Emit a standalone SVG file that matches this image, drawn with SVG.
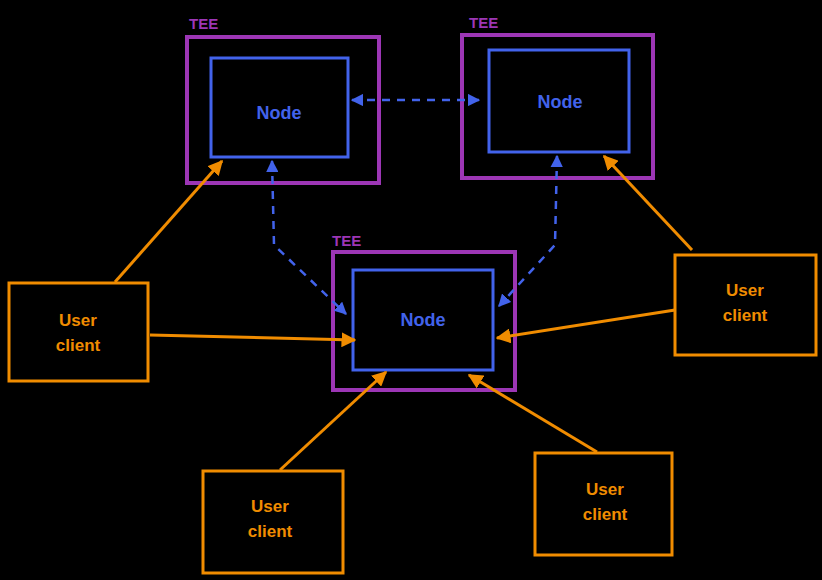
<svg xmlns="http://www.w3.org/2000/svg" width="822" height="580" viewBox="0 0 822 580">
<defs>
<style>
.tee{fill:none;stroke:#9c36b5;stroke-width:4}
.teel{fill:#9c36b5;font-family:"Liberation Sans",Arial,sans-serif;font-size:15px;font-weight:bold}
.node{fill:#000;stroke:#4263eb;stroke-width:3}
.nodel{fill:#4263eb;font-family:"Liberation Sans",Arial,sans-serif;font-size:18px;font-weight:bold;text-anchor:middle}
.uc{fill:#000;stroke:#f08c00;stroke-width:3}
.ucl{fill:#f08c00;font-family:"Liberation Sans",Arial,sans-serif;font-size:17px;font-weight:bold;text-anchor:middle}
.dash{fill:none;stroke:#4263eb;stroke-width:2.5;stroke-dasharray:8 7}
.oa{fill:none;stroke:#f08c00;stroke-width:3}
</style>
<marker id="ab" viewBox="0 0 10 10" refX="9" refY="5" markerWidth="5" markerHeight="5" orient="auto-start-reverse" markerUnits="strokeWidth"><path d="M0,0 L10,5 L0,10 z" fill="#4263eb"/></marker>
<marker id="ao" viewBox="0 0 10 10" refX="9" refY="5" markerWidth="5" markerHeight="5" orient="auto" markerUnits="strokeWidth"><path d="M0,0 L10,5 L0,10 z" fill="#f08c00"/></marker>
</defs>
<rect width="822" height="580" fill="#000"/>
<g id="tee1"><rect class="tee" x="187" y="37" width="192" height="146"/><text class="teel" x="189" y="29">TEE</text></g>
<g id="tee2"><rect class="tee" x="462" y="35" width="191" height="143"/><text class="teel" x="469" y="28">TEE</text></g>
<g id="tee3"><rect class="tee" x="333" y="252" width="182" height="138"/><text class="teel" x="332" y="246">TEE</text></g>
<g id="node1"><rect class="node" x="211" y="58" width="137" height="99"/><text class="nodel" x="279" y="119">Node</text></g>
<g id="node2"><rect class="node" x="489" y="50" width="140" height="102"/><text class="nodel" x="560" y="108">Node</text></g>
<g id="node3"><rect class="node" x="353" y="270" width="140" height="100"/><text class="nodel" x="423" y="326">Node</text></g>
<g id="client1"><rect class="uc" x="9" y="283" width="139" height="98"/><text class="ucl" x="78" y="326">User</text><text class="ucl" x="78" y="351">client</text></g>
<g id="client2"><rect class="uc" x="675" y="255" width="141" height="100"/><text class="ucl" x="745" y="296">User</text><text class="ucl" x="745" y="321">client</text></g>
<g id="client3"><rect class="uc" x="203" y="471" width="140" height="102"/><text class="ucl" x="270" y="512">User</text><text class="ucl" x="270" y="537">client</text></g>
<g id="client4"><rect class="uc" x="535" y="453" width="137" height="102"/><text class="ucl" x="605" y="495">User</text><text class="ucl" x="605" y="520">client</text></g>
<g id="connectors">
<path class="dash" d="M352,100 L479,100" marker-start="url(#ab)" marker-end="url(#ab)"/>
<path class="dash" d="M272,161 L274,245 L346,314" marker-start="url(#ab)" marker-end="url(#ab)"/>
<path class="dash" d="M557,156 L555,245 L499,306" marker-start="url(#ab)" marker-end="url(#ab)"/>
<path class="oa" d="M115,282 L222,161" marker-end="url(#ao)"/>
<path class="oa" d="M150,335 L355,340" marker-end="url(#ao)"/>
<path class="oa" d="M692,250 L604,156" marker-end="url(#ao)"/>
<path class="oa" d="M675,310 L497,338" marker-end="url(#ao)"/>
<path class="oa" d="M280,470 L386,372" marker-end="url(#ao)"/>
<path class="oa" d="M597,452 L469,375" marker-end="url(#ao)"/>
</g>
</svg>
